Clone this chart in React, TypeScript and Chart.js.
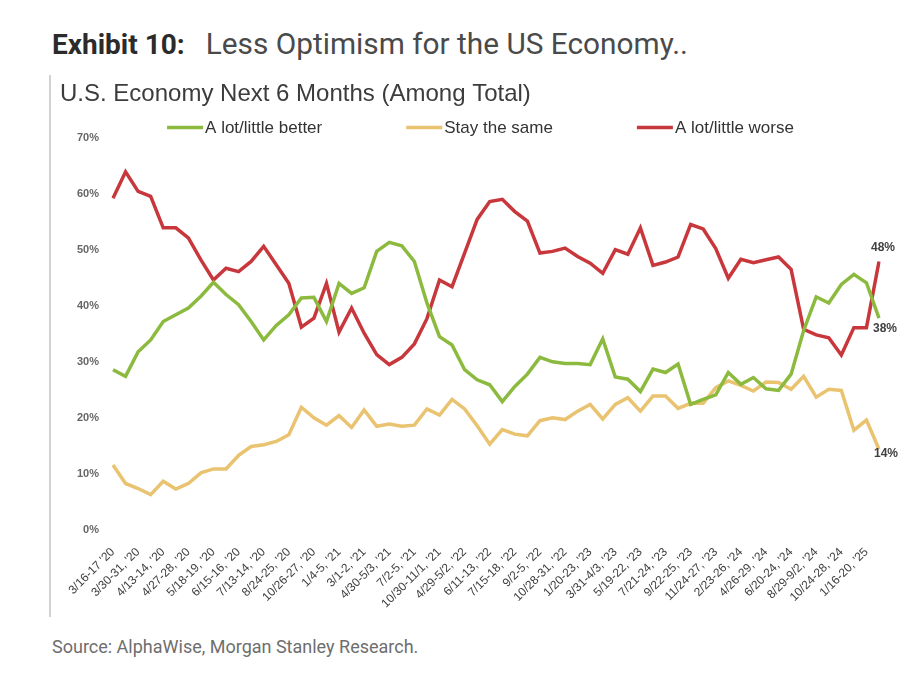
import React, { useEffect, useRef } from "react";
import { Chart, registerables } from "chart.js";

Chart.register(...registerables);

const tickLabels = [
  "3/16-17 '20", "3/30-31, '20", "4/13-14, '20", "4/27-28, '20", "5/18-19, '20",
  "6/15-16, '20", "7/13-14, '20", "8/24-25, '20", "10/26-27, '20", "1/4-5, '21",
  "3/1-2, '21", "4/30-5/3, '21", "7/2-5, '21", "10/30-11/1, '21", "4/29-5/2, '22",
  "6/11-13, '22", "7/15-18, '22", "9/2-5, '22", "10/28-31, '22", "1/20-23, '23",
  "3/31-4/3, '23", "5/19-22, '23", "7/21-24, '23", "9/22-25, '23", "11/24-27, '23",
  "2/23-26, '24", "4/26-29, '24", "6/20-24, '24", "8/29-9/2, '24", "10/24-28, '24",
  "1/16-20, '25",
];

const better = [
  28.6, 27.4, 31.8, 33.9, 37.2, 38.4, 39.6, 41.7, 44.2, 42.0,
  40.2, 37.2, 33.9, 36.5, 38.4, 41.4, 41.5, 37.2, 44.0, 42.2,
  43.2, 49.7, 51.3, 50.7, 47.9, 40.5, 34.5, 33.0, 28.6, 26.8,
  25.9, 22.9, 25.6, 27.8, 30.8, 30.0, 29.7, 29.7, 29.5, 34.1,
  27.3, 26.9, 24.7, 28.7, 28.1, 29.6, 22.4, 23.3, 24.1, 28.1,
  26.0, 27.2, 25.2, 24.9, 27.8, 35.6, 41.6, 40.5, 43.8, 45.6,
  44.1, 37.8,
];

const same = [
  11.6, 8.3, 7.4, 6.3, 8.7, 7.3, 8.3, 10.2, 10.9, 10.9,
  13.3, 14.9, 15.2, 15.8, 17.0, 21.9, 20.0, 18.7, 20.4, 18.3,
  21.4, 18.5, 18.9, 18.5, 18.7, 21.6, 20.5, 23.3, 21.6, 18.6,
  15.3, 17.9, 17.1, 16.8, 19.5, 20.0, 19.7, 21.2, 22.4, 19.8,
  22.4, 23.6, 21.2, 23.9, 23.9, 21.7, 22.6, 22.6, 25.4, 26.6,
  25.8, 24.8, 26.4, 26.3, 25.1, 27.4, 23.7, 25.1, 24.9, 17.8,
  19.6, 14.4,
];

const worse = [
  59.2, 63.9, 60.4, 59.5, 53.9, 53.9, 52.1, 48.2, 44.6, 46.7,
  46.1, 47.9, 50.6, 47.3, 44.0, 36.2, 37.8, 44.0, 35.3, 39.6,
  35.1, 31.3, 29.5, 30.8, 33.2, 37.7, 44.6, 43.4, 49.4, 55.4,
  58.6, 59.0, 56.8, 55.1, 49.4, 49.7, 50.3, 48.8, 47.6, 45.8,
  50.0, 49.2, 53.9, 47.2, 47.8, 48.7, 54.5, 53.7, 50.2, 44.9,
  48.3, 47.7, 48.2, 48.7, 46.5, 35.8, 34.8, 34.3, 31.2, 36.1,
  36.1, 47.9,
];

const seriesNames = ["A lot/little better", "Stay the same", "A lot/little worse"];
const seriesColors = ["#8BBA3F", "#E9C36F", "#C8373B"];
const yTicks = [0, 10, 20, 30, 40, 50, 60, 70];

const FONT = "'Liberation Sans', Arial, sans-serif";

const customLegend = {
  id: "customLegend",
  afterDraw(chart: any) {
    const ctx = chart.ctx;
    ctx.save();
    ctx.font = `17px ${FONT}`;
    const sample = 36;
    const gap = 2;
    const spacing = 84;
    const items = chart.data.datasets.map((ds: any) => ({
      text: ds.label,
      color: ds.borderColor,
      w: ctx.measureText(ds.label).width,
    }));
    const total =
      items.reduce((s: number, it: any) => s + sample + gap + it.w, 0) +
      spacing * (items.length - 1);
    let x = chart.width / 2 - total / 2;
    const y = chart.chartArea.top - 10;
    items.forEach((it: any) => {
      ctx.strokeStyle = it.color;
      ctx.lineWidth = 3.5;
      ctx.beginPath();
      ctx.moveTo(x, y);
      ctx.lineTo(x + sample, y);
      ctx.stroke();
      ctx.fillStyle = "#333333";
      ctx.textAlign = "left";
      ctx.textBaseline = "middle";
      ctx.fillText(it.text, x + sample + gap, y + 1);
      x += sample + gap + it.w + spacing;
    });
    ctx.restore();
  },
};

const endLabels = {
  id: "endLabels",
  afterDatasetsDraw(chart: any, _args: any, opts: any) {
    const ctx = chart.ctx;
    ctx.save();
    ctx.font = `bold 12px ${FONT}`;
    ctx.fillStyle = "#404040";
    ctx.textAlign = "center";
    ctx.textBaseline = "middle";
    chart.data.datasets.forEach((ds: any, i: number) => {
      const meta = chart.getDatasetMeta(i);
      const pt = meta.data[meta.data.length - 1];
      const v = ds.data[ds.data.length - 1];
      const off = opts.offsets[i];
      ctx.fillText(Math.round(v) + "%", pt.x + off[0], pt.y + off[1]);
    });
    ctx.restore();
  },
};

export default function App() {
  const ref = useRef<HTMLCanvasElement | null>(null);

  useEffect(() => {
    if (!ref.current) return;
    const labels = better.map((_, i) => (i % 2 === 0 ? tickLabels[i / 2] ?? "" : ""));
    const values = [better, same, worse];
    const chart = new Chart(ref.current, {
      type: "line",
      data: {
        labels,
        datasets: values.map((d, i) => ({
          label: seriesNames[i],
          data: d,
          borderColor: seriesColors[i],
          backgroundColor: seriesColors[i],
          borderWidth: 3.5,
          pointRadius: 0,
          tension: 0,
          fill: false,
        })),
      },
      options: {
        responsive: false,
        animation: false,
        devicePixelRatio: 1,
        layout: { padding: { left: 8, right: 30, top: 0, bottom: 0 } },
        plugins: {
          legend: { display: false },
          tooltip: { enabled: false },
          title: {
            display: true,
            text: "U.S. Economy Next 6 Months (Among Total)",
            align: "start",
            color: "#3c3c3c",
            font: { family: FONT, size: 24, weight: "normal", lineHeight: 1.15 },
            padding: { top: 6, bottom: 29 },
          },
          endLabels: {
            offsets: [
              [6, 10.5],
              [7, 4.5],
              [4, -14],
            ],
          },
        } as any,
        scales: {
          x: {
            grid: { display: false, drawTicks: false },
            border: { display: false },
            ticks: {
              autoSkip: false,
              maxRotation: 45,
              minRotation: 45,
              padding: 15,
              color: "#404040",
              font: { family: FONT, size: 12 },
            },
            afterFit: (scale: any) => {
              scale.height = 85;
            },
          },
          y: {
            min: yTicks[0],
            max: yTicks[yTicks.length - 1],
            grid: { display: false, drawTicks: false },
            border: { display: false },
            afterBuildTicks: (scale: any) => {
              scale.ticks = yTicks.map((v) => ({ value: v }));
            },
            ticks: {
              padding: 14,
              color: "#666666",
              font: { family: FONT, size: 11, weight: "bold" },
              callback: (v: any) => v + "%",
            },
            afterFit: (scale: any) => {
              scale.width = 53;
            },
          },
        },
      },
      plugins: [customLegend, endLabels],
    });
    return () => chart.destroy();
  }, []);

  return (
    <div
      style={{
        position: "absolute",
        left: 0,
        top: 0,
        width: 924,
        height: 681,
        background: "#ffffff",
        overflow: "hidden",
      }}
    >
      <div
        style={{
          position: "absolute",
          left: 52,
          top: 29,
          fontFamily: "Roboto, 'Liberation Sans', sans-serif",
          lineHeight: "30px",
          whiteSpace: "nowrap",
        }}
      >
        <span style={{ fontWeight: 700, color: "#2b2b2b", fontSize: 28 }}>Exhibit 10:</span>
        <span style={{ color: "#4a4a4a", marginLeft: 21, fontSize: 29.8 }}>
          Less Optimism for the US Economy..
        </span>
      </div>
      <div
        style={{
          position: "absolute",
          left: 49,
          top: 75,
          width: 2,
          height: 542,
          background: "#d2d2d2",
        }}
      />
      <canvas
        ref={ref}
        width={857}
        height={540}
        style={{ position: "absolute", left: 52, top: 75, width: 857, height: 540 }}
      />
      <div
        style={{
          position: "absolute",
          left: 52,
          top: 638,
          fontFamily: "Roboto, 'Liberation Sans', sans-serif",
          fontSize: 18,
          lineHeight: "18px",
          color: "#6e6e6e",
          whiteSpace: "nowrap",
        }}
      >
        Source: AlphaWise, Morgan Stanley Research.
      </div>
    </div>
  );
}
